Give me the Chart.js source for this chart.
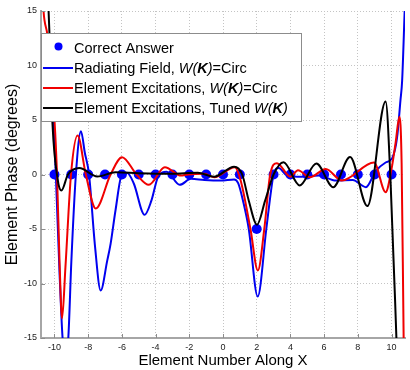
<!DOCTYPE html>
<html>
<head>
<meta charset="utf-8">
<script src="https://cdn.jsdelivr.net/npm/chart.js@4.4.1/dist/chart.umd.min.js"></script>
<style>
  html, body { margin: 0; padding: 0; background: #fff; }
  #wrap { width: 410px; height: 370px; }
</style>
</head>
<body>
<div id="wrap"><canvas id="fase"></canvas></div>
<script>
// element positions and the exact phase for each element
const elementX = [-10, -9, -8, -7, -6, -5, -4, -3, -2, -1, 0, 1, 2, 3, 4, 5, 6, 7, 8, 9, 10];
const correctPhase = [0, 0, 0, 0, 0, 0, 0, 0, 0, 0, 0, 0, -5, 0, 0, 0, 0, 0, 0, 0, 0];

// radiating field, W(K)=Circ  [x, degrees]
const radiatingCirc = [
  [-10.8, 11], [-10.4, 8], [-10.06, 5], [-9.92, 0], [-9.7, -9], [-9.52, -15],
  [-9.36, -16.8], [-9.18, -15], [-9.0, -8], [-8.73, 0], [-8.43, 3.97], [-8.2, 2],
  [-7.95, 0], [-7.6, -6.5], [-7.26, -10.64], [-6.87, -7.9], [-6.67, -6.36],
  [-6.38, -3.3], [-6.0, 0], [-5.7, 0.15], [-5.3, -0.8], [-4.65, -3.7], [-4.25, -2.4],
  [-3.85, -0.2], [-3.35, 0.25], [-2.57, -0.95], [-1.9, -0.4], [-1.1, -0.5],
  [-0.13, -0.55], [0.66, -0.45], [0.9, -0.8], [1.2, -2.5], [1.53, -5], [2.06, -11.2],
  [2.57, -5], [2.85, -1.5], [3.0, 0], [3.3, 0.6], [3.8, -0.1], [4.4, -0.2],
  [5.7, -0.1], [6.7, -0.55], [7.7, -0.5], [8.48, -1.16], [9.06, 0.3], [9.65, 1.1],
  [10.04, 1.5], [10.33, 3.4], [10.53, 6.8], [10.63, 8.6], [10.78, 15], [10.85, 18]
];

// element excitations, W(K)=Circ
const excitationCirc = [
  [-10.8, 20], [-10.65, 15], [-10.41, 12.7], [-10.0, 5], [-9.85, 0], [-9.7, -8],
  [-9.55, -13.2], [-9.35, -8.5], [-9.02, 0], [-8.63, 3.58], [-8.14, 0],
  [-7.55, -3.12], [-6.67, 0], [-5.99, 1.59], [-5.13, 0], [-4.4, -0.95],
  [-3.45, 0.67], [-2.5, -0.1], [-2.08, 0], [-1.1, 0.06], [-0.52, -0.25], [0.7, 0.67],
  [1.04, -0.5], [1.63, -5], [2.07, -8.8], [2.45, -5], [2.8, 0], [3.2, 1.04],
  [4.0, -0.2], [4.45, 0.4], [5.15, -0.25], [6.1, 0.5], [7.05, -0.55], [8.96, 1.1],
  [9.65, -1.62], [10.0, 0.5], [10.25, 3], [10.47, 5.3], [10.6, 1], [10.72, -15],
  [10.82, -25]
];

// element excitations, tuned W(K)
const excitationTuned = [
  [-10.8, 25], [-10.35, 15], [-10.25, 11], [-10.12, 4.7], [-9.8, -0.55],
  [-9.59, -1.47], [-9.2, 0], [-8.53, 0.6], [-7.46, -0.18], [-6.38, 0.21],
  [-5.01, 0.12], [-3.06, 0.06], [-1.5, 0.15], [-0.52, -0.2], [0.66, 0.72],
  [1.14, 0], [1.53, -2.4], [2.02, -4.6], [2.5, -2.4], [3.0, 0], [3.59, 1.13],
  [4.55, -1.0], [5.54, 1.0], [6.54, -1.16], [7.54, 1.6], [8.57, -2.9], [9.65, 6.7],
  [9.94, -0.5], [10.29, -15], [10.4, -20]
];

const xTicks = [-10, -8, -6, -4, -2, 0, 2, 4, 6, 8, 10];
const yTicks = [-15, -10, -5, 0, 5, 10, 15];

const BLUE = '#0000f0';
const RED = '#f00000';
const BLACK = '#000000';

const toPoints = arr => arr.map(p => ({ x: p[0], y: p[1] }));

// legend rows, each label split in runs of plain / italic / bold italic text
const legendRows = [
  { kind: 'dot', color: '#0000ff', text: [['Correct Answer', '']] },
  { kind: 'line', color: BLUE, text: [['Radiating Field, ', ''], ['W(', 'italic '], ['K', 'italic bold '], [')', 'italic '], ['=Circ', '']] },
  { kind: 'line', color: RED, text: [['Element Excitations, ', ''], ['W(', 'italic '], ['K', 'italic bold '], [')', 'italic '], ['=Circ', '']] },
  { kind: 'line', color: BLACK, text: [['Element Excitations, Tuned ', ''], ['W(', 'italic '], ['K', 'italic bold '], [')', 'italic ']] }
];

const FONT = '"Liberation Sans", Arial, sans-serif';

const boxLegend = {
  id: 'boxLegend',
  afterDraw(chart) {
    const ctx = chart.ctx;
    const x0 = chart.chartArea.left, y0 = 33, w = 261, h = 89;
    ctx.save();
    ctx.fillStyle = '#fff';
    ctx.fillRect(x0, y0, w, h);
    ctx.strokeStyle = '#8c8c8c';
    ctx.lineWidth = 1;
    ctx.strokeRect(x0 + 0.5, y0 + 0.5, w - 1, h - 1);
    legendRows.forEach((row, i) => {
      const base = 53 + i * 20;
      const mid = base - 5;
      if (row.kind === 'dot') {
        ctx.fillStyle = row.color;
        ctx.beginPath();
        ctx.arc(58.5, base - 6.5, 4, 0, Math.PI * 2);
        ctx.fill();
      } else {
        ctx.strokeStyle = row.color;
        ctx.lineWidth = 2;
        ctx.beginPath();
        ctx.moveTo(43, mid);
        ctx.lineTo(73, mid);
        ctx.stroke();
      }
      let tx = 74;
      ctx.fillStyle = '#000';
      ctx.textBaseline = 'alphabetic';
      row.text.forEach(([t, style]) => {
        ctx.font = style + '14.5px ' + FONT;
        ctx.fillText(t, tx, base);
        tx += ctx.measureText(t).width;
      });
    });
    ctx.restore();
  }
};

// short inward tick marks on the bottom and left axes
const innerTicks = {
  id: 'innerTicks',
  afterDatasetsDraw(chart) {
    const { ctx, chartArea, scales } = chart;
    ctx.save();
    ctx.strokeStyle = '#8c8c8c';
    ctx.lineWidth = 1;
    ctx.beginPath();
    xTicks.forEach(v => {
      const px = Math.round(scales.x.getPixelForValue(v)) + 0.5;
      ctx.moveTo(px, chartArea.bottom);
      ctx.lineTo(px, chartArea.bottom - 4);
    });
    yTicks.forEach(v => {
      const py = Math.round(scales.y.getPixelForValue(v)) + 0.5;
      ctx.moveTo(chartArea.left, py);
      ctx.lineTo(chartArea.left + 4, py);
    });
    ctx.stroke();
    ctx.restore();
  }
};

const lineSet = (label, pts, color, order) => ({
  label: label,
  data: toPoints(pts),
  showLine: true,
  borderColor: color,
  backgroundColor: color,
  borderWidth: 2,
  pointRadius: 0,
  cubicInterpolationMode: 'monotone',
  order: order
});

new Chart(document.getElementById('fase'), {
  type: 'scatter',
  data: {
    datasets: [
      {
        label: 'Correct Answer',
        data: elementX.map((x, i) => ({ x: x, y: correctPhase[i] })),
        pointRadius: 5,
        pointBackgroundColor: '#0000ff',
        pointBorderWidth: 0,
        showLine: false,
        order: 4
      },
      lineSet('Radiating Field, W(K)=Circ', radiatingCirc, BLUE, 3),
      lineSet('Element Excitations, W(K)=Circ', excitationCirc, RED, 2),
      lineSet('Element Excitations, Tuned W(K)', excitationTuned, BLACK, 1)
    ]
  },
  options: {
    responsive: true,
    maintainAspectRatio: false,
    animation: false,
    layout: { padding: { top: 11, right: 0, left: 0, bottom: 0 } },
    plugins: {
      legend: { display: false },
      tooltip: { enabled: false }
    },
    scales: {
      x: {
        type: 'linear',
        min: -10.8,
        max: 10.8,
        afterBuildTicks: scale => { scale.ticks = xTicks.map(v => ({ value: v })); },
        afterFit: scale => { scale.height = 32; },
        grid: { color: '#c4c4c4', lineWidth: 1, drawTicks: false },
        border: { display: true, color: '#a6a6a6', width: 2, dash: [1, 2] },
        ticks: { font: { family: FONT, size: 9 }, color: '#222', padding: 4, maxRotation: 0 },
        title: {
          display: true,
          text: 'Element Number Along X',
          font: { family: FONT, size: 15 },
          color: '#000',
          padding: { top: 0, bottom: 0 }
        }
      },
      y: {
        min: -15,
        max: 15,
        afterBuildTicks: scale => { scale.ticks = yTicks.map(v => ({ value: v })); },
        afterFit: scale => { scale.width = 41; },
        grid: { color: '#c4c4c4', lineWidth: 1, drawTicks: false },
        border: { display: true, color: '#a6a6a6', width: 2, dash: [1, 2] },
        ticks: { font: { family: FONT, size: 9 }, color: '#222', padding: 4 },
        title: {
          display: true,
          text: 'Element Phase (degrees)',
          font: { family: FONT, size: 16 },
          color: '#000',
          padding: { top: 3, bottom: 0 }
        }
      }
    }
  },
  plugins: [innerTicks, boxLegend]
});
</script>
</body>
</html>
